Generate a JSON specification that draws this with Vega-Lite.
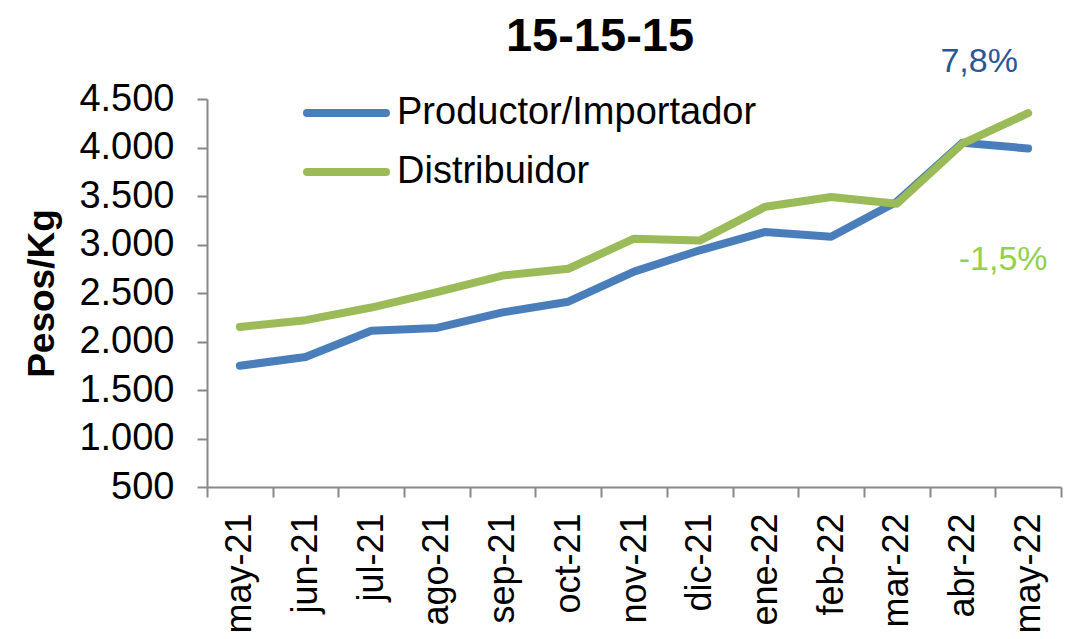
{
  "$schema": "https://vega.github.io/schema/vega-lite/v6.json",
  "width": 854,
  "height": 388,
  "autosize": {"type": "none"},
  "padding": {"left": 207, "top": 99, "right": 7, "bottom": 152},
  "background": "white",
  "config": {"view": {"stroke": null}, "font": "Liberation Sans"},
  "title": {"text": "15-15-15", "fontSize": 47, "fontWeight": "bold", "font": "Liberation Sans", "color": "black", "anchor": "middle", "frame": "group", "dx": -34, "offset": 34, "dy": 50},
  "datasets": {
    "precios": [
      {"mes": "may-21", "serie": "Productor/Importador", "valor": 1750},
      {"mes": "jun-21", "serie": "Productor/Importador", "valor": 1840},
      {"mes": "jul-21", "serie": "Productor/Importador", "valor": 2110},
      {"mes": "ago-21", "serie": "Productor/Importador", "valor": 2140},
      {"mes": "sep-21", "serie": "Productor/Importador", "valor": 2300},
      {"mes": "oct-21", "serie": "Productor/Importador", "valor": 2410},
      {"mes": "nov-21", "serie": "Productor/Importador", "valor": 2720},
      {"mes": "dic-21", "serie": "Productor/Importador", "valor": 2940},
      {"mes": "ene-22", "serie": "Productor/Importador", "valor": 3130},
      {"mes": "feb-22", "serie": "Productor/Importador", "valor": 3080},
      {"mes": "mar-22", "serie": "Productor/Importador", "valor": 3440},
      {"mes": "abr-22", "serie": "Productor/Importador", "valor": 4050},
      {"mes": "may-22", "serie": "Productor/Importador", "valor": 3990},
      {"mes": "may-21", "serie": "Distribuidor", "valor": 2150},
      {"mes": "jun-21", "serie": "Distribuidor", "valor": 2220},
      {"mes": "jul-21", "serie": "Distribuidor", "valor": 2350},
      {"mes": "ago-21", "serie": "Distribuidor", "valor": 2510},
      {"mes": "sep-21", "serie": "Distribuidor", "valor": 2680},
      {"mes": "oct-21", "serie": "Distribuidor", "valor": 2750},
      {"mes": "nov-21", "serie": "Distribuidor", "valor": 3060},
      {"mes": "dic-21", "serie": "Distribuidor", "valor": 3040},
      {"mes": "ene-22", "serie": "Distribuidor", "valor": 3390},
      {"mes": "feb-22", "serie": "Distribuidor", "valor": 3490},
      {"mes": "mar-22", "serie": "Distribuidor", "valor": 3420},
      {"mes": "abr-22", "serie": "Distribuidor", "valor": 4040},
      {"mes": "may-22", "serie": "Distribuidor", "valor": 4355}
    ],
    "notas": [
      {"mes": "may-22", "valor": 4880, "texto": "7,8%", "serie": "Productor/Importador"},
      {"mes": "may-22", "valor": 2840, "texto": "-1,5%", "serie": "Distribuidor"}
    ]
  },
  "encoding": {
    "x": {
      "field": "mes", "type": "ordinal", "bandPosition": 0.5,
      "scale": {"type": "band", "paddingInner": 0, "paddingOuter": 0,
        "domain": ["may-21","jun-21","jul-21","ago-21","sep-21","oct-21","nov-21","dic-21","ene-22","feb-22","mar-22","abr-22","may-22"]},
      "axis": {"title": null, "labelAngle": -90, "labelAlign": "right", "labelBaseline": "middle", "labelFontSize": 36, "labelColor": "black", "labelPadding": 16, "tickBand": "extent", "tickSize": 10, "tickColor": "#888888", "tickWidth": 2, "domainColor": "#888888", "domainWidth": 2, "grid": false}
    },
    "y": {
      "field": "valor", "type": "quantitative",
      "scale": {"domain": [500, 4500], "nice": false, "zero": false},
      "axis": {"title": "Pesos/Kg", "titleFontSize": 37, "titleFontWeight": "bold", "titleColor": "black", "titlePadding": 17, "values": [500,1000,1500,2000,2500,3000,3500,4000,4500], "labelExpr": "replace(format(datum.value, ','), ',', '.')", "labelFontSize": 38, "labelColor": "black", "labelPadding": 23, "tickSize": 10, "tickColor": "#888888", "tickWidth": 2, "domainColor": "#888888", "domainWidth": 2, "grid": false}
    }
  },
  "layer": [
    {
      "data": {"name": "precios"},
      "transform": [{"filter": "datum.serie == 'Productor/Importador'"}],
      "mark": {"type": "line", "strokeWidth": 8, "strokeCap": "round", "strokeJoin": "round"},
      "encoding": {
        "color": {"field": "serie", "type": "nominal",
          "scale": {"domain": ["Productor/Importador", "Distribuidor"], "range": ["#4A7EBB", "#9BBB59"]},
          "legend": {"title": null, "orient": "none", "legendX": 160, "legendY": -5, "direction": "vertical", "symbolType": "M-7.9,0H0", "symbolSize": 400, "symbolStrokeWidth": 8, "labelFontSize": 38, "labelColor": "black", "labelOffset": -8, "rowPadding": 21, "padding": 0, "symbolOffset": 0, "labelLimit": 600,
            "encode": {"symbols": {"update": {"strokeCap": {"value": "round"}}}}}
        }
      }
    },
    {
      "data": {"name": "precios"},
      "transform": [{"filter": "datum.serie == 'Distribuidor'"}],
      "mark": {"type": "line", "strokeWidth": 8, "strokeCap": "round", "strokeJoin": "round"},
      "encoding": {
        "color": {"field": "serie", "type": "nominal"}
      }
    },
    {
      "data": {"name": "notas"},
      "transform": [{"filter": "datum.serie == 'Productor/Importador'"}],
      "mark": {"type": "text", "fontSize": 34, "color": "#2C5596", "dx": -49, "baseline": "middle", "align": "center"},
      "encoding": {"text": {"field": "texto"}}
    },
    {
      "data": {"name": "notas"},
      "transform": [{"filter": "datum.serie == 'Distribuidor'"}],
      "mark": {"type": "text", "fontSize": 34, "color": "#92D050", "dx": -25, "baseline": "middle", "align": "center"},
      "encoding": {"text": {"field": "texto"}}
    }
  ]
}
